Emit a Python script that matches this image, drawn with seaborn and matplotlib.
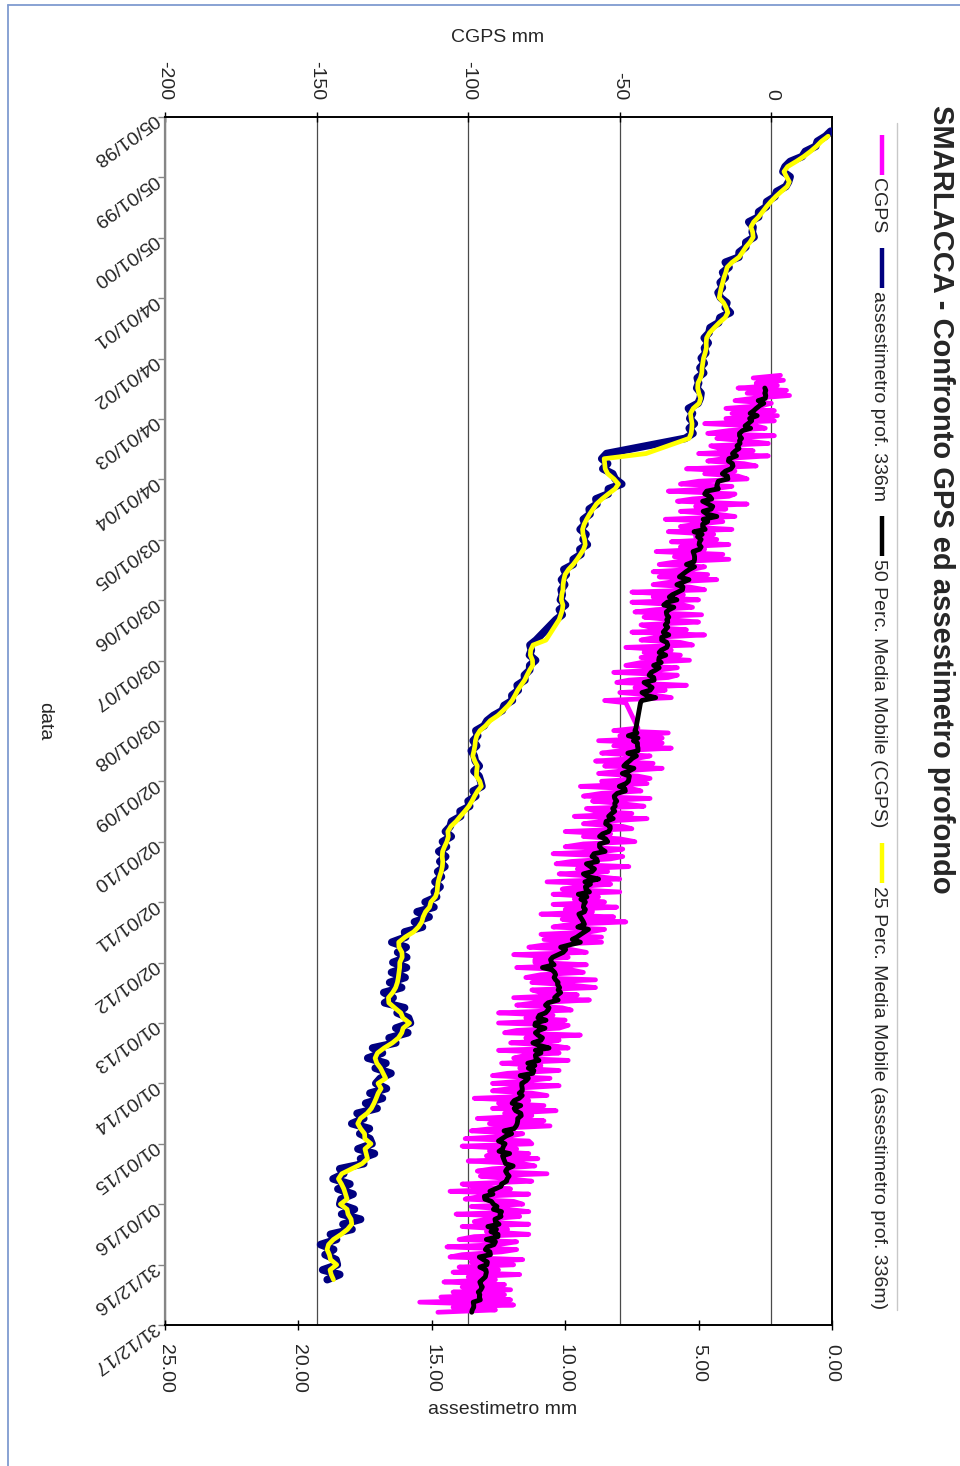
import numpy as np
import pandas as pd
import matplotlib
matplotlib.use("Agg")
import matplotlib.pyplot as plt
import matplotlib.dates as mdates
from matplotlib import font_manager
from matplotlib.lines import Line2D
import seaborn as sns

# ---------------------------------------------------------------- data
# CGPS vertical position (mm), semi-monthly samples (1st and 15th of month)
cgps_start, cgps_end = "2002-04-15", "2017-10-15"
cgps_gaps = [("2007-09-20", "2008-02-10")]
cgps_mm = [
    # 2002
    3, -6, 4, -5, 2, -11, 5, -8, 6, -6, -12, 0, -3, -15, 1, -13, 2,
    # 2003
    -15, 1, -22, -5, -2, -14, -21, 1, -18, -9, -1, -20, -17, -6, -24, -1, -16, -21, -9, -5, -28, -12, -22, -11,
    # 2004
    -8, -24, -30, -13, -19, -34, -12, -14, -26, -31, -8, -25, -15, -30, -18, -12, -35, -16, -25, -30, -13, -34, -19, -25,
    # 2005
    -18, -33, -14, -30, -22, -38, -16, -32, -14, -31, -37, -22, -26, -39, -21, -37, -18, -33, -39, -27, -22, -46, -29, -39,
    # 2006
    -24, -46, -29, -26, -38, -45, -23, -42, -33, -24, -43, -40, -28, -46, -22, -38, -43, -30, -26, -48, -33, -42, -30, -43,
    # 2007
    -27, -43, -48, -31, -37, -52, -31, -34, -47, -51, -28, -45, -35, -50, -38, -33, -55, -48,
    # 2008
    -44, -52, -34, -50, -36, -57, -36, -52, -33, -50, -56, -40, -44, -58, -39, -55, -36, -50, -57, -44, -40,
    # 2009
    -56, -41, -63, -46, -43, -56, -62, -40, -59, -50, -42, -61, -58, -46, -65, -41, -56, -62, -49, -46, -68, -53, -62, -50,
    # 2010
    -45, -62, -68, -49, -55, -72, -49, -53, -66, -71, -47, -64, -54, -70, -57, -50, -74, -53, -64, -69, -50, -72, -57, -65,
    # 2011
    -55, -72, -51, -68, -59, -76, -52, -69, -48, -66, -72, -55, -60, -76, -56, -75, -56, -74, -80, -66, -61, -85, -67, -78,
    # 2012
    -78, -61, -84, -66, -62, -76, -81, -58, -79, -67, -58, -79, -76, -64, -85, -60, -78, -84, -69, -66, -90, -72, -81, -68,
    # 2013
    -90, -67, -70, -84, -88, -63, -81, -70, -86, -73, -67, -90, -70, -81, -85, -67, -89, -76, -83, -70, -87, -92, -73, -80,
    # 2014
    -92, -70, -86, -92, -79, -74, -98, -80, -90, -75, -92, -71, -88, -79, -97, -75, -93, -73, -92, -99, -82, -86, -101, -80,
    # 2015
    -79, -102, -84, -93, -80, -94, -77, -100, -82, -78, -92, -97, -74, -96, -86, -79, -102, -98, -86, -106, -80, -96, -101, -85,
    # 2016
    -82, -99, -87, -80, -104, -83, -94, -98, -80, -102, -87, -94, -80, -98, -103, -84, -90, -107, -84, -89, -102, -106, -82, -99,
    # 2017
    -85, -103, -90, -105, -83, -100, -91, -108, -88, -102, -86, -105, -88, -109, -86, -116, -85, -105, -91, -110,
]

# deep extensometer (336 m) compaction (mm), monthly samples
ass_start, ass_end = "1998-04-01", "2017-04-01"
ass_gaps = [("2003-05-15", "2003-07-15"), ("2006-05-15", "2006-08-15")]
ass_mm = [
    0.05, 0.24, 0.55, 0.61, 1.0, 1.12, 1.57, 1.76, 1.84,
    1.57, 1.63, 1.73, 2.08, 2.14, 2.45, 2.46, 2.75, 2.75, 3.12, 2.96, 2.99,
    2.92, 3.23, 3.23, 3.48, 3.49, 4.0, 3.86, 4.1, 4.0, 4.19, 4.11, 4.27,
    4.18, 3.94, 4.0, 3.81, 4.2, 4.25, 4.57, 4.61, 4.79, 4.64, 4.78, 4.73,
    4.9, 4.79, 4.95, 4.81, 5.05, 5.0, 5.07, 4.91, 4.94, 5.02, 5.38, 5.23,
    5.33, 5.16, 5.35, 5.21, 5.5, 8.45, 8.63, 8.41, 8.59, 8.22,
    8.13, 7.88, 8.38, 8.39, 8.85, 8.81, 9.1, 9.07, 9.32, 9.26, 9.44, 9.22,
    9.33, 9.17, 9.45, 9.41, 9.7, 9.7, 10.05, 9.96, 10.14, 10.02, 10.15, 10.11,
    10.18, 9.99, 10.22, 10.11, 10.35, 11.09, 11.32, 11.27, 11.34,
    11.11, 11.33, 11.33, 11.53, 11.51, 11.8, 11.76, 12.0, 11.98, 12.29, 12.36, 12.69,
    12.93, 13.04, 13.35, 13.28, 13.45, 13.32, 13.52, 13.41, 13.37, 13.22, 13.42, 13.23,
    13.17, 13.12, 13.45, 13.35, 13.64, 13.58, 13.94, 13.92, 14.26, 14.31, 14.49, 14.27,
    14.6, 14.45, 14.74, 14.48, 14.7, 14.51, 14.78, 14.64, 14.88, 14.69, 14.91, 14.82,
    15.25, 14.92, 15.55, 15.1, 15.65, 15.35, 16.02, 15.98, 16.5, 15.96, 16.28, 15.94,
    16.46, 15.95, 16.51, 16.0, 16.58, 16.13, 16.8, 16.45, 16.77, 16.02, 16.3, 15.87,
    15.8, 16.35, 15.9, 16.6, 16.35, 17.22, 16.85, 17.4, 16.72, 17.12, 16.53, 16.93,
    17.1, 16.7, 17.32, 16.85, 17.48, 17.05, 17.8, 17.55, 18.0, 17.34, 17.7, 17.32,
    17.24, 17.77, 17.15, 17.67, 17.55, 18.45, 18.3, 18.7, 18.07, 18.52, 17.95, 18.4,
    18.45, 17.9, 18.38, 17.67, 18.33, 17.99, 18.8, 18.57, 19.17, 18.68, 19.0, 18.59,
    18.54, 19.09, 18.45, 18.92,
]

# axis ticks
date_first, date_step_days, date_count = "1998-01-05", 365, 21
cgps_ticks = [-200, -150, -100, -50, 0]
ass_ticks = [25, 20, 15, 10, 5, 0]

title = "SMARLACCA - Confronto GPS ed assestimetro profondo"
legend_labels = ["CGPS", "assestimetro prof. 336m",
                 "50 Perc. Media Mobile (CGPS)",
                 "25 Perc. Media Mobile (assestimetro prof. 336m)"]

MAGENTA, NAVY, BLACK, YELLOW = "#FF00FF", "#000080", "#000000", "#FFFF00"


def sample_dates(start, end, freq, gaps):
    d = pd.date_range(start, end, freq=freq)
    keep = np.ones(len(d), dtype=bool)
    for a, b in gaps:
        keep &= ~((d > pd.Timestamp(a)) & (d < pd.Timestamp(b)))
    return d[keep]


cgps_dates = sample_dates(cgps_start, cgps_end, "SMS", cgps_gaps)
ass_dates = sample_dates(ass_start, ass_end, "MS", ass_gaps)
assert len(cgps_dates) == len(cgps_mm), (len(cgps_dates), len(cgps_mm))
assert len(ass_dates) == len(ass_mm), (len(ass_dates), len(ass_mm))

# trailing moving averages, as in the spreadsheet trend lines
cgps = pd.DataFrame({"t": mdates.date2num(cgps_dates), "mm": cgps_mm})
cgps["ma"] = cgps["mm"].rolling(6).mean()
ass = pd.DataFrame({"t": mdates.date2num(ass_dates), "mm": ass_mm})
ass["ma"] = ass["mm"].rolling(2).mean()

tick_dates = pd.date_range(date_first, periods=date_count,
                           freq=f"{date_step_days}D")
tick_nums = mdates.date2num(tick_dates)

# ---------------------------------------------------------------- style
sns.set_style("ticks")
names = {f.name for f in font_manager.fontManager.ttflist}
base_family = "Liberation Sans" if "Liberation Sans" in names else "DejaVu Sans"
plt.rcParams["font.family"] = [base_family, "DejaVu Sans"]
if "Liberation Sans Narrow" in names:
    title_family, title_size = "Liberation Sans Narrow", 25.5
else:
    title_family, title_size = base_family, 21

W, H = 960, 1466


def fx(x):
    return x / W


def fy(y):
    return 1 - y / H


fig = plt.figure(figsize=(W / 100, H / 100), dpi=100)
fig.patch.set_facecolor("white")

x0, x1, y0, y1 = 165, 832, 117, 1325
ax = fig.add_axes([fx(x0), fy(y1), (x1 - x0) / W, (y1 - y0) / H])
ax2 = ax.twiny()

line_kw = dict(orient="y", sort=False, estimator=None, legend=False,
               solid_joinstyle="round", solid_capstyle="round")
sns.lineplot(data=cgps, x="mm", y="t", color=MAGENTA, lw=3.4, ax=ax, **line_kw)
sns.lineplot(data=cgps.dropna(), x="ma", y="t", color=BLACK, lw=3.5, ax=ax, **line_kw)
sns.lineplot(data=ass, x="mm", y="t", color=NAVY, lw=5.5, ax=ax2, **line_kw)
sns.lineplot(data=ass.dropna(), x="ma", y="t", color=YELLOW, lw=3.4, ax=ax2, **line_kw)

for a in (ax, ax2):
    a.set_xlabel("")
    a.set_ylabel("")

ax.set_xlim(-200, 20)
ax2.set_xlim(25, 0)
ax.set_ylim(tick_nums[-1], tick_nums[0])

# CGPS axis on top
ax.xaxis.set_ticks_position("top")
ax.set_xticks(cgps_ticks)
ax.set_xticklabels([str(v) for v in cgps_ticks])
ax.tick_params(axis="x", direction="inout", length=7, width=1, color="black",
               labelsize=14, pad=8.5, labelrotation=270)

# extensometer axis at the bottom
ax2.xaxis.set_ticks_position("bottom")
ax2.set_xticks(ass_ticks)
ax2.set_xticklabels([f"{v:.2f}" for v in ass_ticks])
ax2.tick_params(axis="x", direction="inout", length=7, width=1, color="black",
                labelsize=14, pad=10.5, labelrotation=270)
for s in ax2.spines.values():
    s.set_visible(False)

# date axis
ax.set_yticks(tick_nums)
ax.set_yticklabels([d.strftime("%d/%m/%y") for d in tick_dates])
ax.tick_params(axis="y", direction="out", length=5, width=1, color="#868686",
               labelsize=14, pad=1.5)
for lbl in ax.get_yticklabels():
    lbl.set_rotation(216)
    lbl.set_ha("left")
    lbl.set_va("center")
    lbl.set_rotation_mode("anchor")

ax.grid(True, axis="x", color="#4a4a4a", lw=0.9)
ax.grid(False, axis="y")
ax.set_axisbelow(True)
for side in ("top", "bottom", "right"):
    ax.spines[side].set_color("black")
    ax.spines[side].set_linewidth(1.4)
ax.spines["left"].set_color("#868686")
ax.spines["left"].set_linewidth(1.6)

# axis titles
fig.text(fx(498), fy(37), "CGPS mm", ha="center", va="center", fontsize=14)
fig.text(fx(503), fy(1410), "assestimetro mm", ha="center", va="center", fontsize=14)
fig.text(fx(45), fy(721), "data", rotation=270, ha="center", va="center", fontsize=14)

# chart title
fig.text(fx(941), fy(105), title, rotation=270, ha="center", va="top",
         fontsize=title_size, fontweight="bold", family=[title_family, "DejaVu Sans"])

# legend, laid out along the vertical edge
renderer = fig.canvas.get_renderer()
ycur = 135
for label, color in zip(legend_labels, [MAGENTA, NAVY, BLACK, YELLOW]):
    fig.add_artist(Line2D([fx(882), fx(882)], [fy(ycur), fy(ycur + 40)],
                          transform=fig.transFigure, color=color, lw=3.2,
                          solid_capstyle="butt"))
    t = fig.text(fx(878), fy(ycur + 43), label, rotation=270, ha="center",
                 va="top", fontsize=14)
    ext = t.get_window_extent(renderer)
    ycur = ycur + 43 + ext.height + 15
fig.add_artist(Line2D([fx(897), fx(897)], [fy(123), fy(1310)],
                      transform=fig.transFigure, color="#c8c8c8", lw=1.0))

# outer chart border
fig.add_artist(Line2D([fx(8), fx(8)], [fy(5), fy(H + 5)],
                      transform=fig.transFigure, color="#7f9bd0", lw=1.3))
fig.add_artist(Line2D([fx(8), fx(W + 5)], [fy(5), fy(5)],
                      transform=fig.transFigure, color="#7f9bd0", lw=1.3))

fig.savefig("out.png", dpi=100, facecolor="white")
